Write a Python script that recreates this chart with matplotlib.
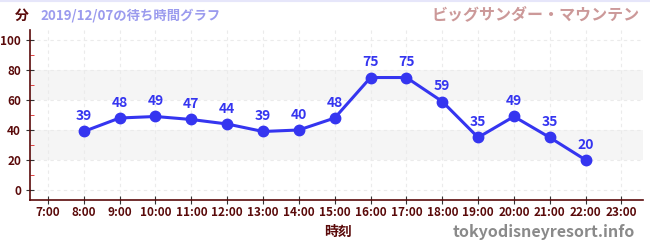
#!/usr/bin/env python3

import numpy as np
from matplotlib import pyplot as plt

plt.rcParams["font.family"] = ["Noto Sans CJK JP", "DejaVu Sans"]

# wait times (minutes) by hour of day
hours = [8, 9, 10, 11, 12, 13, 14, 15, 16, 17, 18, 19, 20, 21, 22]
waits = [39, 48, 49, 47, 44, 39, 40, 48, 75, 75, 59, 35, 49, 35, 20]

tick_hours = list(range(7, 24))
tick_labels = ["%d:00" % h for h in tick_hours]

DARK = "#5a0a0a"
BLUE = "#3535f0"

fig = plt.figure(figsize=(6.5, 2.5), dpi=100)
ax = fig.add_axes([30 / 650, 50 / 250, 613 / 650, 170 / 250])

ax.set_xlim(6.5, 23.6)
ax.set_ylim(-6.7, 106.7)

# light bands
for lo, hi in [(20, 40), (60, 80)]:
    ax.axhspan(lo, hi, color="#f5f5f5", zorder=0, lw=0)

ax.set_yticks([0, 20, 40, 60, 80, 100])
ax.set_yticks([10, 30, 50, 70, 90], minor=True)
ax.set_xticks(tick_hours)
ax.set_xticklabels(tick_labels)
ax.grid(True, which="major", color="#ebebeb", ls=(0, (3, 3)), lw=0.8, zorder=0)

for s in ["top", "right"]:
    ax.spines[s].set_visible(False)
for s in ["left", "bottom"]:
    ax.spines[s].set_color(DARK)
    ax.spines[s].set_linewidth(1.2)

ax.tick_params(axis="both", which="major", direction="inout", length=6,
               color="#333333", labelcolor=DARK, labelsize=8.5)
ax.tick_params(axis="y", which="minor", direction="in", length=3,
               color="#dd2222")
ax.tick_params(axis="x", labelsize=8.5, pad=1)
for lab in ax.get_xticklabels() + ax.get_yticklabels():
    lab.set_fontweight("bold")

ax.plot(hours, waits, "-o", color=BLUE, lw=2.2, ms=7.5, zorder=5)
for h, w in zip(hours, waits):
    ax.annotate(str(w), (h, w), xytext=(0, 6), textcoords="offset points",
                ha="center", va="bottom", color=BLUE, fontsize=10,
                fontweight="bold")

fig.text(22 / 650, 1 - 16 / 250, "分", color=DARK, fontsize=10,
         fontweight="bold", ha="center", va="center")
fig.text(40 / 650, 1 - 16 / 250, "2019/12/07の待ち時間グラフ", color="#9b9bee",
         fontsize=9.6, fontweight="bold", ha="left", va="center")
fig.text(640 / 650, 1 - 14 / 250, "ビッグサンダー・マウンテン", color="#cc9999",
         fontsize=11.5, fontweight="bold", ha="right", va="center")
fig.text(338 / 650, 1 - 232 / 250, "時刻", color=DARK, fontsize=10,
         fontweight="bold", ha="center", va="center")
fig.text(635 / 650, 1 - 232 / 250, "tokyodisneyresort.info", color="#8a8a8a",
         fontsize=11.5, fontweight="bold", ha="right", va="center")

fig.add_artist(plt.Line2D([0, 1], [0.998, 0.998], color="#e6e6fa", lw=1.5))

plt.savefig("out.png", dpi=100)
